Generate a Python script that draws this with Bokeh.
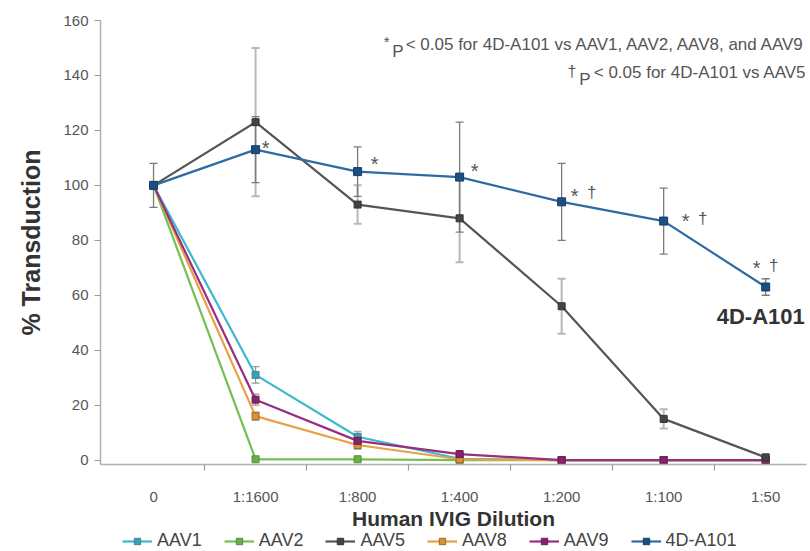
from bokeh.plotting import figure
from bokeh.layouts import column
from bokeh.models import (ColumnDataSource, Range1d, FixedTicker, Whisker, TeeHead,
                          Label, Legend, LegendItem, Title)
from bokeh.embed import file_html
from bokeh.resources import INLINE

# ---------------- data ----------------
categories = ["0", "1:1600", "1:800", "1:400", "1:200", "1:100", "1:50"]
y_ticks = [0, 20, 40, 60, 80, 100, 120, 140, 160]

aav1 = [100, 31, 8.5, 0.5, 0, 0, 0]
aav1_err = [0, 3, 2, 0, 0, 0, 0]
aav2 = [100, 0.3, 0.3, 0, 0, 0, 0]
aav8 = [100, 16, 5.5, 0.3, 0, 0, 0]
aav8_err = [0, 1.5, 1.5, 0, 0, 0, 0]
aav9 = [100, 22, 7, 2.2, 0, 0, 0]
aav9_err = [0, 2, 1.5, 0.5, 0, 0, 0]
aav5 = [100, 123, 93, 88, 56, 15, 1]
aav5_err = [0, 27, 7, 16, 10, 3.5, 0.5]
a101 = [100, 113, 105, 103, 94, 87, 63]
a101_err = [8, 12, 9, 20, 14, 12, 3]

stars = ["", "*", "*", "*", "*", "*", "*"]
daggers = ["", "", "", "", "\u2020", "\u2020", "\u2020"]

series_names = ["AAV1", "AAV2", "AAV5", "AAV8", "AAV9", "4D-A101"]

note1 = "< 0.05 for 4D-A101 vs AAV1, AAV2, AAV8, and AAV9"
note2 = "< 0.05 for 4D-A101 vs AAV5"

x_idx = list(range(len(categories)))

FONT = "Liberation Sans"

p = figure(width=810, height=530, output_backend="svg", toolbar_location=None,
           x_range=Range1d(-0.52, 6.40), y_range=Range1d(-1.6, 160),
           min_border_left=100, min_border_right=4, min_border_top=20,
           min_border_bottom=66)
p.outline_line_color = None
p.grid.visible = False
p.background_fill_color = "white"
p.border_fill_color = "white"

# x axis: labels at category centres, ticks between categories
xa = p.xaxis[0]
xa.ticker = FixedTicker(ticks=x_idx, minor_ticks=[i + 0.5 for i in x_idx[:-1]])
xa.major_label_overrides = {i: c for i, c in enumerate(categories)}
xa.major_tick_line_color = None
xa.major_tick_out = 0
xa.major_tick_in = 0
xa.minor_tick_out = 6
xa.minor_tick_in = 0
xa.minor_tick_line_color = "#9a9a9a"
xa.minor_tick_line_width = 1.2
xa.axis_line_color = "#b0b0b0"
xa.axis_line_width = 1.5
xa.major_label_standoff = 17
xa.major_label_text_font = FONT
xa.major_label_text_font_size = "15px"
xa.major_label_text_color = "#555555"

ya = p.yaxis[0]
ya.ticker = FixedTicker(ticks=y_ticks, minor_ticks=[])
ya.major_tick_out = 6
ya.major_tick_in = 0
ya.major_tick_line_color = "#9a9a9a"
ya.major_tick_line_width = 1.2
ya.minor_tick_line_color = None
ya.axis_line_color = "#b0b0b0"
ya.axis_line_width = 1.5
ya.major_label_standoff = 6
ya.major_label_text_font = FONT
ya.major_label_text_font_size = "15px"
ya.major_label_text_color = "#555555"


def whisker(vals, errs, color, width=1.2):
    lo = [v - e for v, e in zip(vals, errs)]
    hi = [v + e for v, e in zip(vals, errs)]
    src = ColumnDataSource(dict(x=x_idx, lower=lo, upper=hi))
    w = Whisker(source=src, base="x", lower="lower", upper="upper",
                dimension="height", line_color=color, line_width=width,
                upper_head=TeeHead(size=8, line_color=color, line_width=width),
                lower_head=TeeHead(size=8, line_color=color, line_width=width))
    p.add_layout(w)


whisker(aav1, aav1_err, "#9a9a9a")
whisker(aav8, aav8_err, "#9a9a9a")
whisker(aav9, aav9_err, "#9a9a9a")
whisker(aav5, aav5_err, "#b8b8b8", 2.0)
whisker(a101, a101_err, "#7a7a7a", 1.3)

styles = {
    "AAV1": (aav1, "#3bb9cd", "#2aa6bd", "#5a7f88"),
    "AAV2": (aav2, "#74c052", "#66b045", "#5b8a3f"),
    "AAV8": (aav8, "#e9a043", "#dc9233", "#9a6a2a"),
    "AAV9": (aav9, "#962f80", "#86226f", "#6a1c59"),
    "AAV5": (aav5, "#555555", "#444444", "#333333"),
    "4D-A101": (a101, "#2d6ba2", "#1b4f82", "#163f68"),
}

draw_order = ["AAV1", "AAV2", "AAV8", "AAV9", "AAV5", "4D-A101"]
for name in draw_order:
    vals, lc, fc, oc = styles[name]
    p.line(x_idx, vals, line_color=lc, line_width=2.2)
    p.scatter(x_idx, vals, marker="square", size=8 if name == "4D-A101" else 7,
              fill_color=fc, line_color=oc, line_width=1)

# axis titles as side-panel titles
p.add_layout(Title(text="% Transduction", align="center", vertical_align="top",
                   offset=-46, standoff=28,
                   text_font=FONT, text_font_style="bold", text_font_size="25px",
                   text_color="#333333"), "left")
p.add_layout(Title(text="Human IVIG Dilution", align="center", offset=5, standoff=-6,
                   text_font=FONT, text_font_style="bold", text_font_size="21px",
                   text_color="#333333"), "below")

# significance marks
star_off = [(0, 0), (10, 2), (17, 8), (15, 6), (13, 6), (22, 0), (-9, 19)]
for i in x_idx:
    dx, dy = star_off[i]
    if stars[i]:
        p.add_layout(Label(x=i, y=a101[i], text=stars[i], x_offset=dx, y_offset=dy,
                           text_align="center", text_baseline="middle",
                           text_font=FONT, text_font_size="20px", text_color="#555555"))
    if daggers[i]:
        p.add_layout(Label(x=i, y=a101[i], text=daggers[i], x_offset=dx + 17, y_offset=dy + 3,
                           text_align="center", text_baseline="middle",
                           text_font=FONT, text_font_size="17px", text_color="#555555"))

# series label
p.add_layout(Label(x=6, y=a101[6], text="4D-A101", x_offset=-49, y_offset=-29,
                   text_align="left", text_baseline="middle", text_font=FONT,
                   text_font_style="bold", text_font_size="22px", text_color="#333333"))

# footnotes (screen units relative to the plot frame)
note_kw = dict(x_units="screen", y_units="screen", text_baseline="middle",
               text_font=FONT, text_color="#555555")
p.add_layout(Label(x=706, y=420, text=note1, text_align="right", text_font_size="17px", **note_kw))
p.add_layout(Label(x=303, y=413, text="P", text_align="right", text_font_size="17px", **note_kw))
p.add_layout(Label(x=289, y=423, text="*", text_align="right", text_font_size="15px", **note_kw))
p.add_layout(Label(x=706, y=392, text=note2, text_align="right", text_font_size="17px", **note_kw))
p.add_layout(Label(x=490, y=385, text="P", text_align="right", text_font_size="17px", **note_kw))
p.add_layout(Label(x=476, y=393, text="\u2020", text_align="right", text_font_size="16px", **note_kw))

# ---------------- legend strip ----------------
lg = figure(width=810, height=21, output_backend="svg", toolbar_location=None,
            x_range=Range1d(100, 101), y_range=Range1d(1000, 1001),
            x_axis_type=None, y_axis_type=None,
            min_border_left=0, min_border_right=0, min_border_top=0, min_border_bottom=0)
lg.outline_line_color = None
lg.grid.visible = False
lg.title.visible = False
lg.border_fill_color = "white"

items = []
for name in series_names:
    vals, lc, fc, oc = styles[name]
    l = lg.line(x_idx, vals, line_color=lc, line_width=2.2)
    s = lg.scatter(x_idx, vals, marker="square", size=7, fill_color=fc, line_color=oc,
                   line_width=1)
    items.append(LegendItem(label=name, renderers=[l, s]))

legend = Legend(items=items, orientation="horizontal", location=(22, 0),
                label_text_font=FONT, label_text_font_size="18px",
                label_text_color="#444444", glyph_width=30, glyph_height=16,
                label_height=16, label_standoff=5, spacing=22, padding=0,
                margin=0, border_line_color=None, background_fill_alpha=0)
lg.add_layout(legend)

layout = column(p, lg, spacing=0)
open("out.html", "w").write(file_html(layout, INLINE))
